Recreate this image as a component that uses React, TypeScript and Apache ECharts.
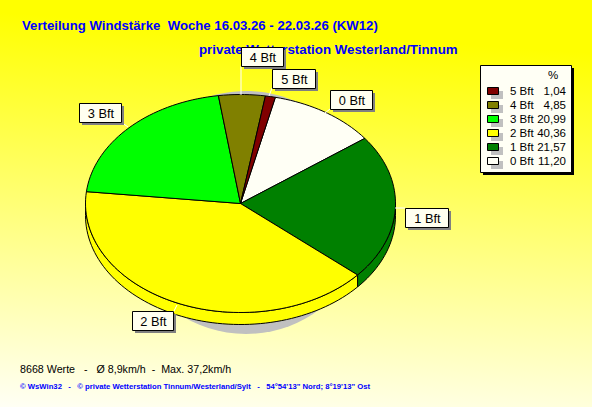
import React, { useEffect, useRef } from "react";
import * as echarts from "echarts";

const categories = ["0 Bft", "1 Bft", "2 Bft", "3 Bft", "4 Bft", "5 Bft"];
const shares = [11.2, 21.57, 40.36, 20.99, 4.85, 1.04];
const sliceColors = ["#fffff5", "#008000", "#ffff00", "#00ff00", "#808000", "#800000"];
const titleLines = [
  "Verteilung Windstärke  Woche 16.03.26 - 22.03.26 (KW12)",
  "private Wetterstation Westerland/Tinnum",
];
const footerStats = "8668 Werte   -   Ø 8,9km/h  -  Max. 37,2km/h";
const footerCredit = "© WsWin32   -   © private Wetterstation Tinnum/Westerland/Sylt   -   54°54'13\" Nord; 8°19'13\" Ost";

const CX = 240.5;
const CY = 203.5;
const RX = 155;
const RY = 109;
const DEPTH = 12;
const START = 13;
const TOTAL = shares.reduce((a, b) => a + b, 0);

const pt = (deg: number, dy = 0): number[] => {
  const r = (deg * Math.PI) / 180;
  return [CX + RX * Math.sin(r), CY - RY * Math.cos(r) + dy];
};

const arc = (a0: number, a1: number, dy = 0): number[][] => {
  const out: number[][] = [];
  const n = Math.max(2, Math.ceil(Math.abs(a1 - a0) / 2));
  for (let i = 0; i <= n; i++) out.push(pt(a0 + ((a1 - a0) * i) / n, dy));
  return out;
};

const labelBoxes: Record<string, { x: number; y: number; w: number; from: number[]; to: number[] }> = {
  "4 Bft": { x: 241, y: 47, w: 42, from: [241, 66], to: [241, 95] },
  "5 Bft": { x: 272, y: 69, w: 43, from: [272, 88], to: [269, 96] },
  "0 Bft": { x: 330, y: 90, w: 42, from: [330, 109], to: [325, 113] },
  "3 Bft": { x: 79, y: 103, w: 42, from: [121, 122], to: [128, 127] },
  "2 Bft": { x: 132, y: 311, w: 41, from: [173, 313], to: [177, 305] },
  "1 Bft": { x: 405, y: 208, w: 43, from: [405, 208], to: [395, 208] },
};

const legendOrder = [5, 4, 3, 2, 1, 0];

export default function App() {
  const ref = useRef<HTMLDivElement>(null);
  useEffect(() => {
    document.body.style.margin = "0";
    const chart = echarts.init(ref.current!, undefined, { renderer: "svg" });

    const graphics: any[] = [
      { type: "ellipse", z: 0, shape: { cx: 246, cy: 212.5, rx: 122, ry: 121.5 }, style: { fill: "#c0c0c0" }, silent: true },
    ];

    const txt = (x: number, y: number, text: string, font: string, fill: string, align = "left") => ({
      type: "text",
      z: 20,
      x,
      y,
      silent: true,
      style: { text, font, fill, textAlign: align, textVerticalAlign: "middle" },
    });

    graphics.push(txt(22, 25.5, titleLines[0], "bold 13.2px 'Liberation Sans'", "#0000ff"));
    graphics.push(txt(199, 49.5, titleLines[1], "bold 13.3px 'Liberation Sans'", "#0000ff"));
    graphics.push(txt(20, 369, footerStats, "10.7px 'Liberation Sans'", "#000000"));
    graphics.push(txt(20, 386, footerCredit, "bold 7.7px 'Liberation Sans'", "#0000ff"));

    categories.forEach((c) => {
      const b = labelBoxes[c];
      graphics.push({ type: "line", z: 21, silent: true, shape: { x1: b.from[0], y1: b.from[1], x2: b.to[0], y2: b.to[1] }, style: { stroke: "#ffffff", lineWidth: 1 } });
      graphics.push({ type: "rect", z: 22, silent: true, shape: { x: b.x + 3, y: b.y + 3, width: b.w, height: 19 }, style: { fill: "#808080" } });
      graphics.push({ type: "rect", z: 23, silent: true, shape: { x: b.x + 0.5, y: b.y + 0.5, width: b.w, height: 19 }, style: { fill: "#fffff0", stroke: "#000000", lineWidth: 1 } });
      graphics.push({ ...txt(b.x + b.w / 2 + 1, b.y + 10, c, "12.8px 'Liberation Sans'", "#000000", "center"), z: 24 });
    });

    graphics.push({ type: "rect", z: 30, silent: true, shape: { x: 483, y: 68, width: 91, height: 107 }, style: { fill: "#000000" } });
    graphics.push({ type: "rect", z: 31, silent: true, shape: { x: 480.5, y: 65.5, width: 91, height: 107 }, style: { fill: "#fffff5", stroke: "#000000", lineWidth: 1 } });
    graphics.push({ ...txt(553, 75, "%", "11.5px 'Liberation Sans'", "#000000", "center"), z: 32 });
    legendOrder.forEach((idx, row) => {
      const y = 91 + row * 14;
      graphics.push({ type: "rect", z: 32, silent: true, shape: { x: 491, y: y, width: 12, height: 8 }, style: { fill: "#c0c0c0" } });
      graphics.push({ type: "rect", z: 33, silent: true, shape: { x: 487.5, y: y - 3.5, width: 11, height: 7 }, style: { fill: sliceColors[idx], stroke: "#000000", lineWidth: 1 } });
      graphics.push({ ...txt(510, y, categories[idx], "11.5px 'Liberation Sans'", "#000000"), z: 33 });
      graphics.push({ ...txt(566, y, shares[idx].toFixed(2).replace(".", ","), "11.5px 'Liberation Sans'", "#000000", "right"), z: 33 });
    });

    chart.setOption({
      animation: false,
      backgroundColor: new echarts.graphic.LinearGradient(0.1, 0, 0, 1, [
        { offset: 0, color: "#ffff00" },
        { offset: 0.04, color: "#ffff00" },
        { offset: 1, color: "#fffff5" },
      ]),
      graphic: graphics,
      series: [
        {
          type: "custom",
          coordinateSystem: "none",
          silent: true,
          z: 5,
          data: shares.map((v, i) => [i, v]),
          renderItem: (params: any, api: any) => {
            const i = params.dataIndex;
            let before = 0;
            for (let k = 0; k < i; k++) before += shares[k];
            const a0 = START + (before / TOTAL) * 360;
            const a1 = a0 + (api.value(1) / TOTAL) * 360;
            const fill = sliceColors[i];
            const line = { stroke: "#000000", lineWidth: 1, lineJoin: "round" };
            const children: any[] = [];
            const s0 = Math.max(a0, 90);
            const s1 = Math.min(a1, 270);
            if (s1 > s0) {
              children.push({
                type: "polygon",
                shape: { points: [...arc(s0, s1), ...arc(s1, s0, DEPTH)] },
                style: { fill, ...line },
              });
            }
            children.push({
              type: "polygon",
              shape: { points: [[CX, CY], ...arc(a0, a1)] },
              style: { fill, ...line },
            });
            return { type: "group", children };
          },
        },
      ],
    });
    return () => chart.dispose();
  }, []);
  return <div ref={ref} style={{ width: 592, height: 407 }} />;
}
